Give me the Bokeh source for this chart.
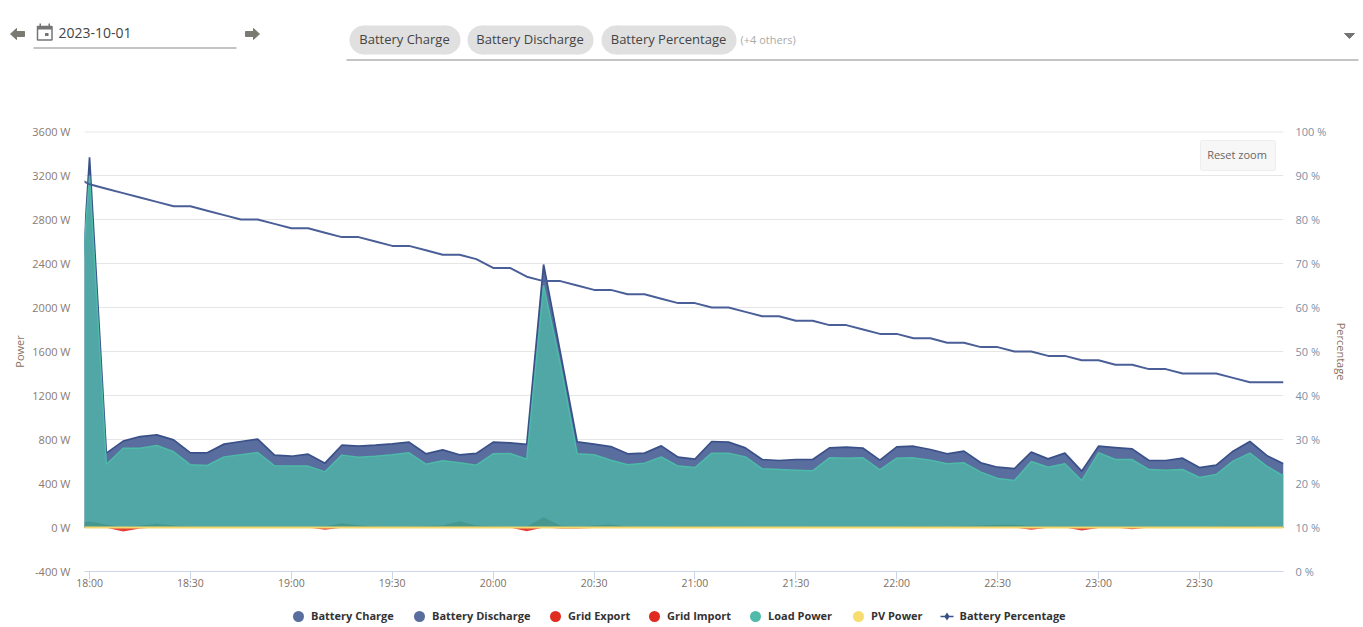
import pandas as pd
from bokeh.core.properties import value
from bokeh.embed import file_html
from bokeh.layouts import column
from bokeh.resources import INLINE
from bokeh.plotting import figure
from bokeh.models import (ColumnDataSource, Range1d, LinearAxis, FixedTicker, DatetimeTickFormatter,
                          PrintfTickFormatter, Label, BoxAnnotation)

# ---- data (5 minute samples, first one lies just outside the zoom window)
start_time = "2023-10-01 17:55"
battery_discharge = [920, 3366, 676, 785, 827, 842, 797, 679, 679, 758, 782, 803, 658, 648, 667, 585, 748, 739, 748, 761, 776,
                     670, 706, 661, 673, 776, 770, 755, 2391, 1590, 779, 758, 736, 670, 676, 742, 639, 621, 782, 776, 724,
                     618, 609, 618, 618, 724, 730, 721, 612, 733, 739, 709, 670, 694, 588, 548, 536, 685, 624, 676, 512,
                     739, 727, 715, 609, 609, 630, 545, 567, 694, 782, 655, 579]
load_power = [1180, 3200, 573, 721, 721, 745, 688, 570, 564, 642, 661, 682, 561, 558, 558, 506, 658, 639, 648, 661, 679,
              576, 606, 588, 567, 670, 673, 621, 2200, 1480, 670, 661, 612, 570, 585, 642, 558, 545, 676, 676, 642,
              533, 527, 521, 515, 633, 630, 633, 524, 630, 633, 612, 579, 588, 503, 445, 427, 600, 548, 579, 427,
              679, 618, 618, 527, 521, 527, 455, 482, 603, 676, 558, 470]
battery_charge = [30, 55, 27, 2, 18, 33, 18, 9, 9, 9, 9, 9, 9, 9, 9, 9, 39, 20, 10, 10, 10,
                  15, 18, 57, 18, 12, 9, 9, 94, 18, 9, 18, 27, 9, 9, 9, 12, 12, 12, 9, 9,
                  6, 6, 6, 9, 9, 9, 9, 9, 9, 12, 12, 9, 15, 18, 24, 24, 15, 12, 15, 9,
                  12, 12, 12, 9, 9, 9, 9, 12, 15, 15, 12, 12]
grid_import = [0, 0, -3, -36, -9, 0, 0, 0, 0, 0, 0, 0, 0, 0, 0, -21, -3, 0, 0, 0, 0,
               0, 0, 0, 0, 0, 0, -33, 0, -8, -10, -4, 0, 0, 0, 0, 0, 0, 0, 0, 0,
               0, 0, 0, 0, -4, 0, 0, 0, 0, 0, 0, -5, 0, 0, 0, 0, -21, -3, 0, -27,
               -4, 0, -15, 0, 0, 0, 0, 0, 0, 0, 0, 0]
grid_export = [0] * 73
pv_power = [0] * 73
battery_percentage = [90, 88, 87, 86, 85, 84, 83, 83, 82, 81, 80, 80, 79, 78, 78, 77, 76, 76, 75, 74, 74,
                      73, 72, 72, 71, 69, 69, 67, 66, 66, 65, 64, 64, 63, 63, 62, 61, 61, 60, 60, 59,
                      58, 58, 57, 57, 56, 56, 55, 54, 54, 53, 53, 52, 52, 51, 51, 50, 50, 49, 49, 48,
                      48, 47, 47, 46, 46, 45, 45, 45, 44, 43, 43, 43]
power_ticks = [-400, 0, 400, 800, 1200, 1600, 2000, 2400, 2800, 3200, 3600]
percent_ticks = [0, 10, 20, 30, 40, 50, 60, 70, 80, 90, 100]
series_names = ["Battery Charge", "Battery Discharge", "Grid Export", "Grid Import", "Load Power", "PV Power", "Battery Percentage"]
selected = ["Battery Charge", "Battery Discharge", "Battery Percentage"]
date_text = "2023-10-01"

NAVY, NAVY_LINE, TEAL, TEAL_LINE, RED, YELLOW = "#5a6d9f", "#3a5088", "#4fb4a8", "#4dbba8", "#e02b20", "#f5d76e"
FONT = "Open Sans"
W = 1360
PAGE_X0, PAGE_Y0 = 0, 0        # where the canvas origin lands in the picture
TOP_H, MAIN_H, LEG_H = 120, 475, 28
FRAME_LEFT, FRAME_RIGHT, FRAME_TOP, FRAME_BOTTOM = 84, 1283, 131, 571

times = pd.date_range(start_time, periods=len(load_power), freq="5min")
src = ColumnDataSource(dict(t=times, dis=battery_discharge, load=load_power, chg=battery_charge, imp=grid_import,
                            exp=grid_export, pv=pv_power, pct=battery_percentage, zero=[0] * len(times)))

p = figure(width=W, height=MAIN_H, output_backend="svg", toolbar_location=None, x_axis_type="datetime",
           x_range=Range1d(pd.Timestamp("2023-10-01 17:58:30"), pd.Timestamp("2023-10-01 23:55:00")),
           y_range=Range1d(-400, 3600), min_border_left=FRAME_LEFT - PAGE_X0, min_border_right=W + PAGE_X0 - FRAME_RIGHT,
           min_border_top=11, min_border_bottom=24, frame_align=False,
           background_fill_color="white", border_fill_color="white", outline_line_color=None)
p.extra_y_ranges = {"pct": Range1d(0, 100)}


def style_axis(ax, color):
    ax.major_label_text_color = color
    ax.major_label_text_font = FONT
    ax.major_label_text_font_size = "11px"
    ax.axis_line_color = None
    ax.major_tick_line_color = None
    ax.minor_tick_line_color = None
    ax.major_tick_out = 0
    ax.major_tick_in = 0
    ax.minor_tick_out = 0
    ax.minor_tick_in = 0
    ax.axis_label_text_font = FONT
    ax.axis_label_text_font_size = "11px"
    ax.axis_label_text_font_style = "normal"
    ax.axis_label_text_color = "#8a7060"


ly = p.yaxis[0]
style_axis(ly, "#8a7a70")
ly.ticker = FixedTicker(ticks=power_ticks)
ly.formatter = PrintfTickFormatter(format="%d W")
ly.axis_label = "Power"
ly.major_label_standoff = 14
ly.axis_label_standoff = 2

ry = LinearAxis(y_range_name="pct", ticker=FixedTicker(ticks=percent_ticks), formatter=PrintfTickFormatter(format="%d %%"))
style_axis(ry, "#7d8fa5")
ry.axis_label = "Percentage"
ry.major_label_standoff = 12
ry.axis_label_standoff = 5
p.add_layout(ry, "right")

lx = p.xaxis[0]
style_axis(lx, "#7b6f66")
lx.major_label_text_font_size = "10.5px"
lx.ticker = FixedTicker(ticks=[pd.Timestamp(f"2023-10-01 {h}:{m}").value / 1e6 for h in range(18, 24) for m in ("00", "30")])
lx.formatter = DatetimeTickFormatter(hours="%H:%M", hourmin="%H:%M", minutes="%H:%M", minsec="%H:%M")
lx.major_label_standoff = -4
lx.axis_line_color = "#ccd6eb"
lx.major_tick_line_color = "#ccd6eb"
lx.major_tick_out = 8

p.xgrid.visible = False
p.ygrid.ticker = FixedTicker(ticks=power_ticks)
p.ygrid.grid_line_color = "#e6e6e6"

r_dis = p.varea("t", "zero", "dis", source=src, fill_color=NAVY, fill_alpha=1)
l_dis = p.line("t", "dis", source=src, line_color=NAVY_LINE, line_width=1.7)
r_imp = p.varea("t", "zero", "imp", source=src, fill_color=RED, fill_alpha=0.9)
r_exp = p.line("t", "exp", source=src, line_color=RED, line_width=1)
r_load = p.varea("t", "zero", "load", source=src, fill_color=TEAL, fill_alpha=0.8)
l_load = p.line("t", "load", source=src, line_color=TEAL_LINE, line_width=1.5)
r_chg = p.varea("t", "zero", "chg", source=src, fill_color="#3f8f80", fill_alpha=0.6)
r_pv = p.line("t", "pv", source=src, line_color=YELLOW, line_width=2)
r_pct = p.line("t", "pct", source=src, y_range_name="pct", line_color="#4a5f97", line_width=2)


def fsx(px):
    return px - FRAME_LEFT


def fsy(py):
    return FRAME_BOTTOM - py


# top grid line and the "Reset zoom" button live inside the plot frame
p.add_layout(BoxAnnotation(left=0, right=FRAME_RIGHT - FRAME_LEFT, top=fsy(130), bottom=fsy(132), left_units="screen",
                           right_units="screen", top_units="screen", bottom_units="screen", fill_color="#e8e8e8",
                           fill_alpha=1, line_color=None, level="underlay", editable=False))
p.add_layout(BoxAnnotation(left=fsx(1200), right=fsx(1275), top=fsy(140), bottom=fsy(170), left_units="screen",
                           right_units="screen", top_units="screen", bottom_units="screen", fill_color="#f7f7f7",
                           fill_alpha=1, line_color="#cccccc", border_radius=2, level="overlay", editable=False))
p.add_layout(Label(x=fsx(1236.5), y=fsy(153.5), x_units="screen", y_units="screen", text="Reset zoom", text_font=FONT,
                   text_font_size="11px", text_color="#666666", text_align="center", text_baseline="middle", level="overlay"))


def strip(height, page_top):
    """A borderless figure whose data coordinates are the picture's own pixels."""
    f = figure(width=W, height=height, output_backend="svg", toolbar_location=None, x_axis_location=None, y_axis_location=None,
               x_range=Range1d(PAGE_X0, PAGE_X0 + W), y_range=Range1d(page_top + height, page_top), frame_align=False,
               min_border=0, outline_line_color=None, background_fill_color="white", border_fill_color="white")
    f.grid.visible = False
    return f


def txt(f, x, y, text, size, color, align="left", style="normal"):
    f.text([x], [y], text=[text], text_font=value(FONT), text_font_size=size, text_color=color, text_align=align,
           text_baseline="middle", text_font_style=style)


# ---- controls above the chart
top = strip(TOP_H, PAGE_Y0)
ARROW = "#7a7a72"
top.patch([10, 16, 16, 24, 24, 16, 16], [33.5, 28, 31, 31, 36, 36, 39], color=ARROW)
top.patch([259, 253, 253, 245, 245, 253, 253], [33.5, 28, 31, 31, 36, 36, 39], color=ARROW)
ICON = "#757575"
top.quad(left=37, right=51.5, top=26, bottom=39.5, fill_color="#ffffff", line_color=ICON, line_width=1.5)
top.quad(left=[37, 39, 48, 44.5], right=[51.5, 40.5, 49.5, 48], top=[26, 23, 23, 32.5], bottom=[29, 27, 27, 35.5],
         fill_color=ICON, line_color=None)
txt(top, 58, 32, date_text, "14px", "#444444")
top.quad(left=[33, 346], right=[236, 1358], top=[47, 59], bottom=[48, 60], fill_color="#8a8a8a", line_color=None)
for (a, b), name in zip([(349, 460), (467, 593), (601, 736)], selected):
    top.quad(left=a + 14.5, right=b - 14.5, top=25, bottom=54, fill_color="#e0e0e0", line_color=None)
    top.scatter([a + 14.5, b - 14.5], [39.5, 39.5], marker="circle", size=29, fill_color="#e0e0e0", line_color=None)
    txt(top, (a + b) / 2 - 0.5, 38.5, name, "13px", "#444444", "center")
txt(top, 740, 39, "(+4 others)", "11px", "#aaaaaa")
top.patch([1344, 1354, 1349], [33, 33, 38], color=ICON)

# ---- legend under the chart
leg = strip(LEG_H, PAGE_Y0 + TOP_H + MAIN_H)
LEGEND_Y = 616
key_x = [298, 419, 555, 654, 755, 858]
key_colors = [NAVY, NAVY, RED, RED, "#4fbba8", "#f7dc6f"]
for x, c, name in zip(key_x, key_colors, series_names[:6]):
    leg.scatter([x], [LEGEND_Y], marker="circle", size=11, fill_color=c, line_color=None)
    txt(leg, x + 12.5, LEGEND_Y - 1, name, "11px", "#333333", style="bold")
leg.line([940, 953], [LEGEND_Y, LEGEND_Y], line_color="#3a5088", line_width=1.5)
leg.scatter([946.5], [LEGEND_Y], marker="diamond", size=8, fill_color="#3a5088", line_color=None)
txt(leg, 959, LEGEND_Y - 1, series_names[6], "11px", "#333333", style="bold")

page = column(top, p, leg, spacing=0)
open("out.html", "w").write(file_html(page, INLINE))
